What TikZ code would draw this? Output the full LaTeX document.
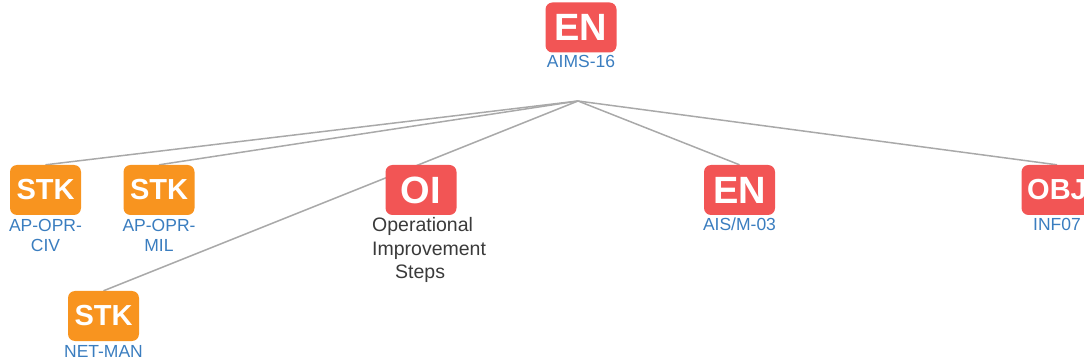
\documentclass[tikz,border=0pt]{standalone}
\usepackage{fontspec}
\setmainfont{Liberation Sans}
\usetikzlibrary{backgrounds}
\definecolor{enred}{HTML}{F25555}
\definecolor{stkorange}{HTML}{F8941F}
\definecolor{lblblue}{HTML}{3A7DBF}
\definecolor{lnkgray}{HTML}{A9A9A9}
\definecolor{txtgray}{HTML}{3A3A3A}
\tikzset{
  box/.style={rounded corners=7pt, minimum width=71pt, minimum height=50pt, inner sep=0pt,
    text=white, font=\bfseries},
  redbox/.style={box, fill=enred},
  orangebox/.style={box, fill=stkorange},
  big/.style={font=\fontsize{38}{38}\selectfont\bfseries},
  small/.style={font=\fontsize{29}{29}\selectfont\bfseries},
  lbl/.style={text=lblblue, font=\fontsize{17.5}{20}\selectfont, align=center, inner sep=0pt, anchor=base},
  link/.style={draw=lnkgray, line width=1.5pt}
}
\begin{document}
\begin{tikzpicture}[x=1pt,y=-1pt]
\useasboundingbox (0,0) rectangle (1084,363);
% boxes
\node[redbox, big] (en1) at (581,27.5) {EN};
\node[orangebox, small] (stk1) at (45.5,190) {STK};
\node[orangebox, small] (stk2) at (159,190) {STK};
\node[redbox, big] (oi) at (421,190) {OI};
\node[redbox, big] (en2) at (739.5,190) {EN};
\node[redbox, small] (obj) at (1057,190) {OBJ};
\node[orangebox, small] (stk3) at (103.5,316) {STK};
% labels (base anchor = baseline of the last line)
\node[lbl] (l1) at (581,68) {AIMS-16};
\node[lbl] (l2) at (45.5,252) {AP-OPR-\\CIV};
\node[lbl] (l3) at (159,252) {AP-OPR-\\MIL};
\node[lbl] (l5) at (739.5,231) {AIS/M-03};
\node[lbl] (l6) at (1057,231) {INF07};
\node[lbl] (l7) at (103.5,357) {NET-MAN};
\node[text=txtgray, font=\fontsize{19.5}{23.5}\selectfont, align=left, inner sep=0pt, anchor=base west] (l4) at (372,279)
  {Operational\\Improvement\\\hspace*{23pt}Steps};
% connectors
\coordinate (hub) at (578,101);
\begin{scope}[on background layer]
\draw[link] (hub) -- (stk1.north);
\draw[link] (hub) -- (stk2.north);
\draw[link] (hub) -- (stk3.north);
\draw[link] (hub) -- (en2.north);
\draw[link] (hub) -- (obj.north);
\end{scope}
\end{tikzpicture}
\end{document}
